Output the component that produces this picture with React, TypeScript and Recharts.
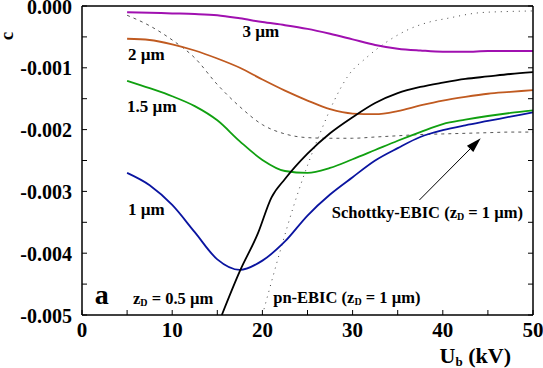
import React from "react";
import {
  LineChart,
  Line,
  XAxis,
  YAxis,
  ReferenceDot,
  ReferenceLine,
} from "recharts";

// beam energy grid shared by the depth series (kV)
const UB = [5, 7.5, 10, 12.5, 15, 17.5, 20, 22.5, 25, 27.5, 30, 32.5, 35, 37.5, 40, 42.5, 45, 47.5, 50];

const C_3UM = [-0.0001, -0.00011, -0.00012, -0.00013, -0.00015, -0.0002, -0.00026, -0.00031, -0.00037, -0.00045, -0.00054, -0.00063, -0.00069, -0.00072, -0.00074, -0.00074, -0.00073, -0.00073, -0.00073];
const C_2UM = [-0.00053, -0.00055, -0.00062, -0.00072, -0.00085, -0.001, -0.00119, -0.00137, -0.00153, -0.00167, -0.00174, -0.00175, -0.0017, -0.00161, -0.00153, -0.00147, -0.00142, -0.00139, -0.00136];
const C_15UM = [-0.00121, -0.00133, -0.00146, -0.00162, -0.00185, -0.00219, -0.00249, -0.00267, -0.0027, -0.00262, -0.00248, -0.00233, -0.00218, -0.00204, -0.00191, -0.00184, -0.00178, -0.00173, -0.00169];
const C_1UM = [-0.0027, -0.0029, -0.00322, -0.00366, -0.0041, -0.00427, -0.00412, -0.00381, -0.00339, -0.00305, -0.00277, -0.0025, -0.0023, -0.00212, -0.00201, -0.00193, -0.00186, -0.00179, -0.00172];
const C_SCHOTTKY = [-0.00015, -0.00032, -0.00055, -0.00084, -0.00127, -0.00163, -0.00192, -0.00207, -0.00213, -0.00214, -0.00214, -0.00212, -0.0021, -0.00208, -0.00207, -0.00206, -0.00205, -0.00204, -0.00204];

// z_D = 0.5 µm
const UB_05 = [15.5, 17.5, 19.5, 21, 22.5, 25, 27.5, 30, 32.5, 35, 37.5, 40, 42.5, 45, 47.5, 50];
const C_05UM = [-0.005, -0.00429, -0.00368, -0.0031, -0.0028, -0.00239, -0.00206, -0.0018, -0.00157, -0.00141, -0.00131, -0.00124, -0.00118, -0.00114, -0.0011, -0.00107];

// pn-EBIC
const UB_PN = [20, 22, 23.5, 25, 26.5, 28, 29.5, 31.5, 34, 36.5, 38.5, 40.5, 44, 47, 50];
const C_PN = [-0.005, -0.00395, -0.00322, -0.00258, -0.00202, -0.00152, -0.00113, -0.00084, -0.00056, -0.00036, -0.00026, -0.0002, -0.00011, -0.00009, -0.00008];

const X_TICKS = [0, 5, 10, 15, 20, 25, 30, 35, 40, 45, 50];
const Y_TICKS = [-0.005, -0.0045, -0.004, -0.0035, -0.003, -0.0025, -0.002, -0.0015, -0.001, -0.0005, 0];

const FONT = "'Liberation Serif', 'DejaVu Serif', serif";
const TICK_LEN = 5;

const toRows = (xs: number[], ys: number[]) => xs.map((x, i) => ({ x, y: ys[i] }));

const isMajorX = (v: number) => v % 10 === 0;
const isMajorY = (v: number) => Math.abs(v * 1000 - Math.round(v * 1000)) < 1e-6;

function BottomTick(props: any) {
  const { x, y, payload } = props;
  return (
    <g>
      <line x1={x} y1={y} x2={x} y2={y - TICK_LEN} stroke="#000" strokeWidth={1} />
      {isMajorX(payload.value) && (
        <text x={x} y={y + 22} textAnchor="middle" fontFamily={FONT} fontWeight="bold" fontSize={21} fill="#000">
          {payload.value}
        </text>
      )}
    </g>
  );
}

function TopTick(props: any) {
  const { x, y } = props;
  return <line x1={x} y1={y} x2={x} y2={y + TICK_LEN} stroke="#000" strokeWidth={1} />;
}

function LeftTick(props: any) {
  const { x, y, payload } = props;
  return (
    <g>
      <line x1={x} y1={y} x2={x + TICK_LEN} y2={y} stroke="#000" strokeWidth={1} />
      {isMajorY(payload.value) && (
        <text x={x - 10} y={y + 7.5} textAnchor="end" fontFamily={FONT} fontWeight="bold" fontSize={20} fill="#000">
          {payload.value.toFixed(3)}
        </text>
      )}
    </g>
  );
}

function RightTick(props: any) {
  const { x, y } = props;
  return <line x1={x} y1={y} x2={x - TICK_LEN} y2={y} stroke="#000" strokeWidth={1} />;
}

// text placed at a data point, left/baseline anchored
function note(content: React.ReactNode, size = 16.5) {
  return (p: any) => (
    <text x={p.cx} y={p.cy} fontFamily={FONT} fontWeight="bold" fontSize={size} fill="#000">
      {content}
    </text>
  );
}

const zD = (
  <>
    z<tspan fontSize={10} dy={2}>D</tspan>
    <tspan dy={-2}> </tspan>
  </>
);

function Arrow(p: any) {
  const { x1, y1, x2, y2 } = p;
  const dx = x2 - x1;
  const dy = y2 - y1;
  const len = Math.hypot(dx, dy);
  const ux = dx / len;
  const uy = dy / len;
  const hl = 15;
  const hw = 4.5;
  const bx = x2 - ux * hl;
  const by = y2 - uy * hl;
  return (
    <g>
      <line x1={x1} y1={y1} x2={bx} y2={by} stroke="#000" strokeWidth={1} />
      <polygon
        points={`${x2},${y2} ${bx - uy * hw},${by + ux * hw} ${bx + uy * hw},${by - ux * hw}`}
        fill="#000"
      />
    </g>
  );
}

export default function App() {
  return (
    <div style={{ position: "absolute", left: 0, top: 0, background: "#fff" }}>
      <LineChart width={543} height={368} margin={{ top: 0, right: 0, left: 0, bottom: 0 }}>
        <XAxis
          xAxisId="b"
          dataKey="x"
          type="number"
          domain={[0, 50]}
          ticks={X_TICKS}
          interval={0}
          height={53}
          tickSize={0}
          tickMargin={0}
          tickLine={false}
          tick={BottomTick}
          axisLine={{ stroke: "#000", strokeWidth: 1.5 }}
          allowDataOverflow
          label={{
            content: (lp: any) => {
              const vb = lp.viewBox;
              return (
                <text x={vb.x + vb.width - 22} y={vb.y + 48} textAnchor="end" fontFamily={FONT} fontWeight="bold" fontSize={22} fill="#000">
                  U<tspan fontSize={13} dy={3}>b</tspan>
                  <tspan dy={-3}> (kV)</tspan>
                </text>
              );
            },
          }}
        />
        <XAxis
          xAxisId="t"
          orientation="top"
          type="number"
          domain={[0, 50]}
          ticks={X_TICKS}
          interval={0}
          height={6}
          tickSize={0}
          tickMargin={0}
          tickLine={false}
          tick={TopTick}
          axisLine={{ stroke: "#000", strokeWidth: 1.5 }}
          allowDataOverflow
        />
        <YAxis
          yAxisId="l"
          type="number"
          domain={[-0.005, 0]}
          ticks={Y_TICKS}
          interval={0}
          width={82}
          tickSize={0}
          tickMargin={0}
          tickLine={false}
          tick={LeftTick}
          axisLine={{ stroke: "#000", strokeWidth: 1.5 }}
          allowDataOverflow
          label={{
            content: (lp: any) => {
              const vb = lp.viewBox;
              const cx = vb.x + 13;
              const cy = vb.y + 30;
              return (
                <text
                  x={cx}
                  y={cy}
                  transform={`rotate(-90 ${cx} ${cy})`}
                  textAnchor="middle"
                  fontFamily={FONT}
                  fontWeight="bold"
                  fontSize={19}
                  fill="#000"
                >
                  c
                </text>
              );
            },
          }}
        />
        <YAxis
          yAxisId="r"
          orientation="right"
          type="number"
          domain={[-0.005, 0]}
          ticks={Y_TICKS}
          interval={0}
          width={10}
          tickSize={0}
          tickMargin={0}
          tickLine={false}
          tick={RightTick}
          axisLine={{ stroke: "#000", strokeWidth: 1.5 }}
          allowDataOverflow
        />

        <Line xAxisId="b" yAxisId="l" data={toRows(UB, C_SCHOTTKY)} dataKey="y" type="monotone" stroke="#555" strokeWidth={1} strokeDasharray="3 4" dot={false} isAnimationActive={false} />
        <Line xAxisId="b" yAxisId="l" data={toRows(UB_PN, C_PN)} dataKey="y" type="monotone" stroke="#444" strokeWidth={1} strokeDasharray="1 5" dot={false} isAnimationActive={false} />
        <Line xAxisId="b" yAxisId="l" data={toRows(UB, C_3UM)} dataKey="y" type="monotone" stroke="#a010b0" strokeWidth={2} dot={false} isAnimationActive={false} />
        <Line xAxisId="b" yAxisId="l" data={toRows(UB, C_2UM)} dataKey="y" type="monotone" stroke="#c05a20" strokeWidth={1.8} dot={false} isAnimationActive={false} />
        <Line xAxisId="b" yAxisId="l" data={toRows(UB, C_15UM)} dataKey="y" type="monotone" stroke="#10a010" strokeWidth={1.8} dot={false} isAnimationActive={false} />
        <Line xAxisId="b" yAxisId="l" data={toRows(UB, C_1UM)} dataKey="y" type="monotone" stroke="#0a14a0" strokeWidth={1.8} dot={false} isAnimationActive={false} />
        <Line xAxisId="b" yAxisId="l" data={toRows(UB_05, C_05UM)} dataKey="y" type="monotone" stroke="#000" strokeWidth={1.8} dot={false} isAnimationActive={false} />

        <ReferenceLine
          xAxisId="b"
          yAxisId="l"
          segment={[{ x: 37.4, y: -0.00314 }, { x: 44.2, y: -0.00214 }]}
          shape={Arrow}
        />

        <ReferenceDot xAxisId="b" yAxisId="l" x={17.8} y={-0.0005} r={0} shape={note("3 µm", 17)} />
        <ReferenceDot xAxisId="b" yAxisId="l" x={5.1} y={-0.00087} r={0} shape={note("2 µm", 17)} />
        <ReferenceDot xAxisId="b" yAxisId="l" x={5.0} y={-0.00171} r={0} shape={note("1.5 µm", 17)} />
        <ReferenceDot xAxisId="b" yAxisId="l" x={5.1} y={-0.00338} r={0} shape={note("1 µm", 17)} />
        <ReferenceDot xAxisId="b" yAxisId="l" x={1.4} y={-0.00482} r={0} shape={note("a", 28)} />
        <ReferenceDot xAxisId="b" yAxisId="l" x={5.65} y={-0.00482} r={0} shape={note(<>{zD}= 0.5 µm</>)} />
        <ReferenceDot xAxisId="b" yAxisId="l" x={21.2} y={-0.0048} r={0} shape={note(<>pn-EBIC ({zD}= 1 µm)</>)} />
        <ReferenceDot xAxisId="b" yAxisId="l" x={27.7} y={-0.00343} r={0} shape={note(<>Schottky-EBIC ({zD}= 1 µm)</>)} />
      </LineChart>
    </div>
  );
}
